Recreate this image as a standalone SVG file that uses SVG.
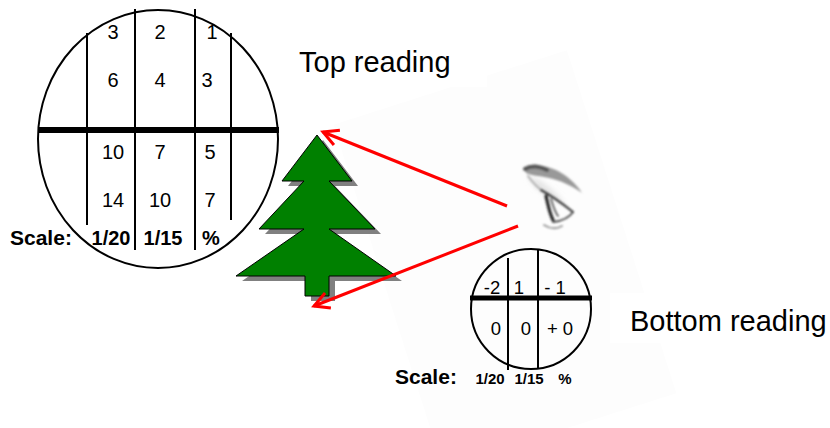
<svg xmlns="http://www.w3.org/2000/svg" width="830" height="428" viewBox="0 0 830 428">
  <defs>
    <style>
      text { font-family: "Liberation Sans", Arial, sans-serif; fill: #000; }
      .num { font-size: 20px; text-anchor: middle; }
      .snum { font-size: 18.5px; text-anchor: middle; }
      .lbl { font-size: 29px; }
      .scale { font-size: 21px; font-weight: bold; }
      .sc { font-size: 20px; font-weight: bold; text-anchor: middle; }
      .ssc { font-size: 15px; font-weight: bold; text-anchor: middle; }
      .thin { stroke: #000; stroke-width: 2; fill: none; }
      .bar { stroke: #000; fill: none; }
      .ray { stroke: #ff0000; stroke-width: 3; fill: none; }
    </style>
    <marker id="openHead" markerUnits="userSpaceOnUse" markerWidth="20" markerHeight="20" viewBox="-16 -10 20 20" refX="0" refY="0" orient="auto">
      <path d="M -15 -8 L 0 0 L -15 8" fill="none" stroke="#ff0000" stroke-width="3"/>
    </marker>
    <filter id="soft" x="-20%" y="-20%" width="140%" height="140%">
      <feGaussianBlur stdDeviation="1"/>
    </filter>
    <filter id="haze" x="-30%" y="-30%" width="160%" height="160%">
      <feGaussianBlur stdDeviation="2.5"/>
    </filter>
  </defs>

  <rect width="830" height="428" fill="#fff"/>

  <!-- pale tilted card behind the eye -->
  <rect x="333.5" y="124.7" width="245" height="360" fill="#fdfdfd" transform="rotate(-17.7 333.5 124.7)"/>

  <!-- upper view: reticle with top and bottom readings -->
  <g id="top-reticle">
    <ellipse cx="158" cy="139" rx="120" ry="129" class="thin" fill="#fff"/>
    <line x1="87" y1="33" x2="87" y2="225" class="thin"/>
    <line x1="135" y1="9" x2="135" y2="250" class="thin"/>
    <line x1="195" y1="9" x2="195" y2="250" class="thin"/>
    <line x1="231" y1="33" x2="231" y2="220" class="thin"/>
    <line x1="38" y1="130" x2="279" y2="130" class="bar" stroke-width="6"/>
    <text class="num" x="113" y="39">3</text>
    <text class="num" x="160" y="39">2</text>
    <text class="num" x="212" y="39">1</text>
    <text class="num" x="113" y="87">6</text>
    <text class="num" x="160" y="87">4</text>
    <text class="num" x="207" y="87">3</text>
    <text class="num" x="113" y="159">10</text>
    <text class="num" x="160" y="159">7</text>
    <text class="num" x="210" y="159">5</text>
    <text class="num" x="113" y="207">14</text>
    <text class="num" x="160" y="207">10</text>
    <text class="num" x="210" y="207">7</text>
    <text class="scale" x="10" y="245">Scale:</text>
    <text class="sc" x="111" y="245">1/20</text>
    <text class="sc" x="163" y="245">1/15</text>
    <text class="sc" x="211" y="245">%</text>
  </g>

  <g id="top-label">
    <rect x="290" y="40" width="197" height="47" fill="#fff"/>
    <text class="lbl" x="299" y="72">Top reading</text>
  </g>

  <!-- fir tree with drop shadow -->
  <g id="tree">
    <polygon transform="translate(6 5)" fill="#808080" points="317,135 352,181 329,181 375,229 329,229 396,276 329,276 329,296 305,296 305,276 236,276 304,229 259,229 304,181 282,181"/>
    <polygon fill="#008000" stroke="#000" stroke-width="1" stroke-linejoin="miter" points="317,135 352,181 329,181 375,229 329,229 396,276 329,276 329,296 305,296 305,276 236,276 304,229 259,229 304,181 282,181"/>
  </g>

  <!-- pencil eye, seen from the side -->
  <g id="eye">
    <path d="M 527 176 C 533 186 541 193 550 198 L 566 205 C 560 196 550 187 540 180 Z" fill="#e6e6e6" filter="url(#haze)"/>
    <g filter="url(#soft)" fill="none" stroke-linecap="round">
      <path d="M 524 169 C 531 164 545 165 556 170 C 566 175 576 183 582 193 C 574 187 564 182 553 179 C 543 176 532 176 526 173 Z" fill="#999" stroke="none"/>
      <path d="M 525 169 C 531 165 540 166 547 170" stroke="#555" stroke-width="4"/>
      <path d="M 528 176 C 533 183 538 188 543 191" stroke="#b0b0b0" stroke-width="2"/>
      <path d="M 541 190 C 552 196 563 204 573 212" stroke="#3a3a3a" stroke-width="2.2"/>
      <path d="M 546 196 C 548 204 549 212 553 220" stroke="#222" stroke-width="3.2"/>
      <path d="M 551 199 C 553 206 555 212 558 216" stroke="#5a5a5a" stroke-width="1.8"/>
      <path d="M 573 212 C 569 218 562 221 553 222" stroke="#4a4a4a" stroke-width="1.8"/>
      <path d="M 544 225 C 550 229 557 229 562 226" stroke="#999" stroke-width="2"/>
    </g>
  </g>

  <!-- lower view: reticle with its readings -->
  <g id="bottom-reticle">
    <circle cx="531" cy="309" r="60" class="thin" fill="#fff"/>
    <line x1="508" y1="258" x2="508" y2="370" class="thin"/>
    <line x1="538" y1="249" x2="538" y2="369" class="thin"/>
    <text class="snum" x="492" y="294">-2</text>
    <text class="snum" x="519" y="294">1</text>
    <text class="snum" x="555" y="294">- 1</text>
    <line x1="470" y1="298" x2="592" y2="298" class="bar" stroke-width="5"/>
    <text class="snum" x="496" y="335">0</text>
    <text class="snum" x="526" y="335">0</text>
    <text class="snum" x="560" y="335">+ 0</text>
    <text class="scale" x="395" y="384">Scale:</text>
    <text class="ssc" x="490" y="384">1/20</text>
    <text class="ssc" x="529" y="384">1/15</text>
    <text class="ssc" x="565" y="384">%</text>
  </g>

  <g id="bottom-label">
    <rect x="610" y="293" width="220" height="50" fill="#fff"/>
    <text class="lbl" x="630" y="331">Bottom reading</text>
  </g>

  <!-- lines of sight from the eye to the tree top and base -->
  <g id="connectors">
    <line class="ray" x1="507" y1="206" x2="323" y2="132" marker-end="url(#openHead)"/>
    <line class="ray" x1="518" y1="226" x2="314" y2="306" marker-end="url(#openHead)"/>
  </g>
</svg>
